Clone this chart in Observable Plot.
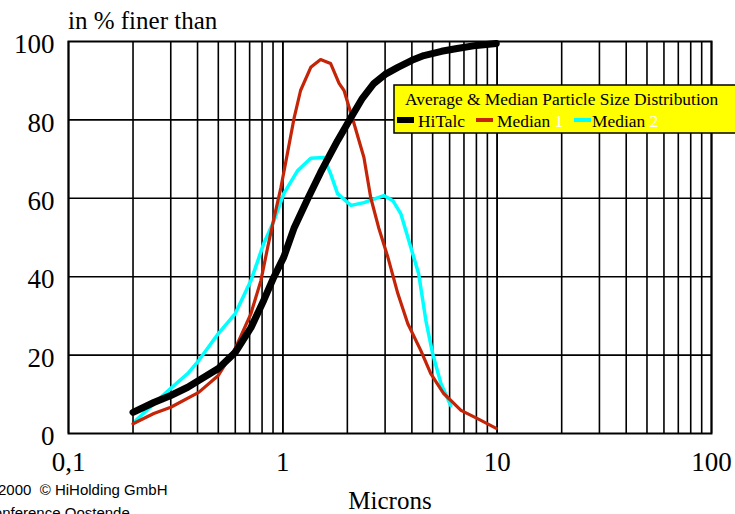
<!DOCTYPE html>
<html>
<head>
<meta charset="utf-8">
<script src="https://cdn.jsdelivr.net/npm/d3@7"></script>
<script src="https://cdn.jsdelivr.net/npm/@observablehq/plot@0.6"></script>
<style>
  html, body { margin: 0; padding: 0; background: #fff; overflow: hidden; }
  #chart { width: 735px; height: 514px; }
</style>
</head>
<body>
<div id="chart"></div>
<script>
// ---- data ----
const hitalcX = [0.2, 0.25, 0.3, 0.36, 0.405, 0.5, 0.6, 0.71, 0.815, 0.91, 1.01, 1.13, 1.31, 1.5, 1.67, 1.8, 2.08, 2.35, 2.66, 3.0, 3.44, 4.0, 4.55, 5.5, 6.5, 8.0, 9.9];
const hitalcY = [5.4, 7.9, 9.7, 11.8, 13.5, 16.6, 20.7, 27, 34, 40, 45, 52.5, 60, 66.6, 71.4, 74.7, 80.6, 85.5, 89.3, 91.6, 93.4, 95.2, 96.4, 97.5, 98.2, 99.0, 99.5];

const median1X = [0.2, 0.25, 0.3, 0.405, 0.5, 0.6, 0.71, 0.79, 0.85, 0.91, 0.98, 1.05, 1.13, 1.21, 1.35, 1.5, 1.67, 1.83, 1.93, 2.15, 2.39, 2.57, 2.8, 3.09, 3.44, 3.83, 4.4, 4.9, 5.63, 6.78, 8.1, 9.9];
const median1Y = [2.5, 5.1, 6.7, 10.5, 14.8, 21.7, 30.6, 39, 47.5, 55, 62.8, 71.4, 80.6, 87.5, 93.4, 95.4, 94.4, 89.3, 87.5, 79, 70.4, 60.2, 52.5, 45, 35.7, 28, 21.2, 15.3, 10.2, 5.9, 3.8, 1.3];

const median2X = [0.206, 0.25, 0.3, 0.36, 0.405, 0.5, 0.6, 0.71, 0.815, 0.91, 1.01, 1.17, 1.35, 1.55, 1.67, 1.8, 2.08, 2.39, 2.96, 3.26, 3.55, 3.96, 4.3, 4.65, 5.0, 5.46, 6.08];
const median2Y = [3.3, 7.6, 11.5, 15.3, 18.6, 25.5, 30.6, 39, 48.5, 54.3, 61.2, 67, 70.2, 70.4, 66.3, 61.2, 58.2, 58.9, 60.7, 59.4, 56.1, 47.4, 40.8, 28.8, 20.4, 12.8, 7.1];

const xTicks = [0.1, 1, 10, 100];
const xTickLabels = ["0,1", "1", "10", "100"];
const yTicks = [0, 20, 40, 60, 80, 100];
const seriesNames = ["HiTalc", "Median 1", "Median 2"];
const seriesColors = ["#000000", "#c42508", "#00ffff"];

// ---- build tables ----
const toRows = (xs, ys) => xs.map((x, i) => ({x, y: ys[i]}));
const hitalc = toRows(hitalcX, hitalcY);
const median1 = toRows(median1X, median1Y);
const median2 = toRows(median2X, median2Y);

const minorGrid = [];
for (const d of [0.1, 1, 10]) for (let k = 1; k <= 10; k++) minorGrid.push(d * k);

const serif = "'Liberation Serif', 'Times New Roman', serif";

const chart = Plot.plot({
  width: 735,
  height: 514,
  marginLeft: 68,
  marginRight: 24,
  marginTop: 41,
  marginBottom: 81,
  style: {fontFamily: serif, background: "#fff", color: "#000"},
  x: {type: "log", domain: [0.1, 100]},
  y: {domain: [0, 100]},
  marks: [
    Plot.ruleX(minorGrid, {stroke: "#000", strokeWidth: 1.6}),
    Plot.ruleY([20, 40, 60, 80], {stroke: "#000", strokeWidth: 1.6}),
    Plot.frame({stroke: "#000", strokeWidth: 2}),
    Plot.line(median2, {x: "x", y: "y", stroke: seriesColors[2], strokeWidth: 3.5, strokeLinejoin: "round"}),
    Plot.line(median1, {x: "x", y: "y", stroke: seriesColors[1], strokeWidth: 3.2, strokeLinejoin: "round"}),
    Plot.line(hitalc, {x: "x", y: "y", stroke: seriesColors[0], strokeWidth: 7, strokeLinejoin: "round"}),
    Plot.axisX({ticks: xTicks, tickFormat: d => xTickLabels[xTicks.indexOf(d)], tickSize: 0, tickPadding: 18, fontSize: 27, label: null}),
    Plot.axisY({ticks: yTicks, tickFormat: d => String(d), tickSize: 0, tickPadding: 14, fontSize: 27, label: null, dy: 3})
  ]
});

document.getElementById("chart").appendChild(chart);

// ---- extra text and legend ----
const svg = d3.select(chart).attr("overflow", "hidden");

svg.append("text").attr("x", 68).attr("y", 29).attr("text-anchor", "start")
  .attr("font-family", serif).attr("font-size", 25).attr("fill", "#000")
  .text("in % finer than");

svg.append("text").attr("x", 390).attr("y", 509).attr("text-anchor", "middle")
  .attr("font-family", serif).attr("font-size", 25).attr("fill", "#000")
  .text("Microns");

const sans = "'Liberation Sans', Arial, sans-serif";
svg.append("text").attr("x", -2).attr("y", 495).attr("text-anchor", "start")
  .attr("font-family", sans).attr("font-size", 15).attr("fill", "#000")
  .text("2000  \u00a9 HiHolding GmbH");
svg.append("text").attr("x", -17).attr("y", 518).attr("text-anchor", "start")
  .attr("font-family", sans).attr("font-size", 15).attr("fill", "#000")
  .text("Conference Oostende");

// legend box
const lg = svg.append("g").attr("text-anchor", "start");
lg.append("rect").attr("x", 394).attr("y", 85).attr("width", 360).attr("height", 48)
  .attr("fill", "#ffff00").attr("stroke", "#000").attr("stroke-width", 1.5);
lg.append("text").attr("x", 405).attr("y", 105).attr("text-anchor", "start")
  .attr("font-family", serif).attr("font-size", 17.4).attr("fill", "#000")
  .text("Average & Median Particle Size Distribution");

const legendItems = [
  {swatchX: 397, swatchH: 6, textX: 418, name: "HiTalc", num: ""},
  {swatchX: 476, swatchH: 4, textX: 497, name: "Median", num: "1"},
  {swatchX: 574, swatchH: 4, textX: 592, name: "Median", num: "2"}
];
legendItems.forEach((it, i) => {
  lg.append("rect").attr("x", it.swatchX).attr("y", 120 - it.swatchH / 2)
    .attr("width", 17).attr("height", it.swatchH).attr("fill", seriesColors[i]);
  const t = lg.append("text").attr("x", it.textX).attr("y", 127).attr("text-anchor", "start")
    .attr("font-family", serif).attr("font-size", 17.4).attr("fill", "#000");
  t.append("tspan").text(it.name);
  if (it.num) t.append("tspan").attr("fill", "#fff").text(" " + it.num);
});
</script>
</body>
</html>
